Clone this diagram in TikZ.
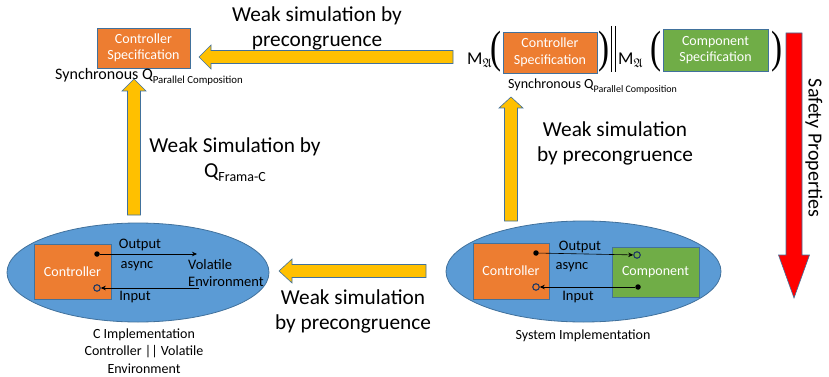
\documentclass[tikz,border=0pt]{standalone}
\usepackage{amsmath,amsfonts}
\usepackage{graphicx}
\usepackage{fontspec}
\setmainfont{Carlito}
\newfontfamily\parenfont{Liberation Serif}
\usetikzlibrary{calc,arrows.meta,shapes.geometric}

\definecolor{boxorange}{HTML}{ED7D31}
\definecolor{boxgreen}{HTML}{70AD47}
\definecolor{ellblue}{HTML}{5B9BD5}
\definecolor{edgeblue}{HTML}{41719C}
\definecolor{arrowgold}{HTML}{FFC000}
\definecolor{alertred}{HTML}{FF0000}
\definecolor{portnavy}{HTML}{1F3864}

% block arrow from #2 to #3; #1 = style, #4 = shaft half width, #5 = head half width, #6 = head length
\newcommand{\blockarrow}[6]{%
  \coordinate (#2-hb) at ($(#3)!#6!(#2)$);
  \draw[#1] ($(#2)!#4!90:(#3)$) -- ($(#2-hb)!#4!90:(#3)$) -- ($(#2-hb)!#5!90:(#3)$)
    -- (#3) -- ($(#2-hb)!#5!-90:(#3)$) -- ($(#2-hb)!#4!-90:(#3)$) -- ($(#2)!#4!-90:(#3)$) -- cycle;
}
% tall round bracket stretched to the height of the specification boxes
\newcommand{\bigparen}[1]{\resizebox*{11pt}{41pt}{\parenfont #1}}

\tikzset{
  specbox/.style={draw=edgeblue, line width=0.8pt, text=white, align=center,
    inner sep=0pt, font=\fontsize{14}{16.5}\selectfont},
  ctrlspec/.style={specbox, fill=boxorange},
  compspec/.style={specbox, fill=boxgreen},
  implell/.style={ellipse, draw=edgeblue, line width=0.8pt, fill=ellblue, inner sep=0pt},
  bigtext/.style={align=center, font=\fontsize{21.3}{25}\selectfont},
  smalltext/.style={font=\fontsize{14.5}{16.5}\selectfont},
  captiontext/.style={align=center, font=\fontsize{14}{17.5}\selectfont},
  outport/.style={circle, fill=black, inner sep=0pt, minimum size=5.5pt},
  inport/.style={circle, draw=portnavy, line width=1.1pt, inner sep=0pt, minimum size=6.5pt},
  conn/.style={draw=black, line width=0.6pt, -{Stealth[length=5pt,width=4.5pt]}},
  goldarrow/.style={draw=edgeblue, line width=0.6pt, fill=arrowgold},
  redarrow/.style={draw=edgeblue, line width=0.6pt, fill=alertred},
  paren/.style={inner sep=0pt},
  mop/.style={anchor=base west, inner sep=0pt, font=\fontsize{18}{20}\selectfont},
}

\begin{document}
\begin{tikzpicture}[x=1pt, y=-1pt]
\useasboundingbox (0,0) rectangle (829,377);

% ---------- top left: controller specification ----------
\node[ctrlspec, minimum width=93pt, minimum height=40pt] (cs1) at (143.5,48) {Controller\\Specification};
\node[anchor=base west, inner sep=0pt, font=\fontsize{16}{18}\selectfont] (sync1) at (55,80)
  {Synchronous Q\raisebox{-3.5pt}{\fontsize{10.8}{12}\selectfont Parallel Composition}};

% ---------- top right: composed specification ----------
\node[ctrlspec, minimum width=94pt, minimum height=41pt] (cs2) at (550,52.5) {Controller\\Specification};
\node[compspec, minimum width=105pt, minimum height=42pt] (comp2) at (715.5,50) {Component\\Specification};
\node[mop] (m1) at (467,65) {M$_{\mathfrak{A}}$};
\node[paren] (p1) at (495.5,52) {\bigparen(};
\node[paren] (p2) at (604,52) {\bigparen)};
\draw[line width=1pt] (611.5,26) -- (611.5,72) (615.5,26) -- (615.5,72);
\node[mop] (m2) at (618,65) {M$_{\mathfrak{A}}$};
\node[paren] (p3) at (655.5,52) {\bigparen(};
\node[paren] (p4) at (777,52) {\bigparen)};
\node[anchor=base west, inner sep=0pt, font=\fontsize{14}{16}\selectfont] (sync2) at (508,89)
  {Synchronous Q\raisebox{-3pt}{\fontsize{10}{12}\selectfont Parallel Composition}};

% ---------- bottom left: C implementation ----------
\node[implell, minimum width=262pt, minimum height=99pt] (cimpl) at (138,272.5) {};
\node[ctrlspec, minimum width=77pt, minimum height=55pt] (lctrl) at (72.5,271.5) {Controller};
\node[outport] (lout) at (97,254) {};
\node[inport] (lin) at (97,288) {};
\coordinate (lenvout) at (197,254);
\coordinate (lenvin) at (199,288);
\draw[conn] (lout) -- (lenvout);
\draw[conn] (lenvin) -- (lin);
\node[smalltext] (lolab) at (140,245) {Output};
\node[smalltext] (lasync) at (137,266) {async};
\node[smalltext, anchor=west, align=left, inner sep=0pt] (lenv) at (188,273) {Volatile\\Environment};
\node[smalltext] (lilab) at (135,297) {Input};
\node[captiontext] (ccap) at (144,351) {C Implementation\\Controller || Volatile\\Environment};

% ---------- bottom right: system implementation ----------
\node[implell, minimum width=275pt, minimum height=101pt] (simpl) at (583.5,271.5) {};
\node[ctrlspec, minimum width=76pt, minimum height=56pt] (rctrl) at (511,271) {Controller};
\node[compspec, minimum width=87pt, minimum height=50pt] (rcomp) at (655.5,272) {Component};
\node[outport] (rout) at (536,253) {};
\node[inport] (rcin) at (637,255) {};
\node[outport] (rcout) at (638,287) {};
\node[inport] (rin) at (536,287) {};
\draw[conn] (rout) -- (rcin);
\draw[conn] (rcout) -- (rin);
\node[smalltext] (rolab) at (580,247) {Output};
\node[smalltext] (rasync) at (572,267) {async};
\node[smalltext] (rilab) at (578,297) {Input};
\node[captiontext] (scap) at (583,336) {System Implementation};

% ---------- refinement arrows ----------
\coordinate (topS) at (453,57);   \coordinate (topE) at (199,57);
\coordinate (leftS) at (134,215); \coordinate (leftE) at (134,79);
\coordinate (rightS) at (511,221);\coordinate (rightE) at (511,97);
\coordinate (botS) at (426,271);  \coordinate (botE) at (279,271);
\coordinate (safeS) at (794,33);  \coordinate (safeE) at (794,298);
\blockarrow{goldarrow}{topS}{topE}{6.5pt}{12pt}{12pt}
\blockarrow{goldarrow}{leftS}{leftE}{6.5pt}{12pt}{12pt}
\blockarrow{goldarrow}{rightS}{rightE}{6.5pt}{12pt}{11pt}
\blockarrow{goldarrow}{botS}{botE}{6.5pt}{12pt}{13pt}
\blockarrow{redarrow}{safeS}{safeE}{8pt}{15.5pt}{43pt}

% ---------- arrow labels ----------
\node[bigtext] (toplab) at (317,28) {Weak simulation by\\precongruence};
\node[bigtext] (leftlab) at (235,160) {Weak Simulation by\\Q\raisebox{-4pt}{\fontsize{14}{16}\selectfont Frama-C}};
\node[bigtext] (rightlab) at (615,143) {Weak simulation\\by precongruence};
\node[bigtext] (botlab) at (353,311) {Weak simulation\\by precongruence};
\node[bigtext, font=\fontsize{20}{24}\selectfont, rotate=-90] (safelab) at (814,148) {Safety Properties};
\end{tikzpicture}
\end{document}
